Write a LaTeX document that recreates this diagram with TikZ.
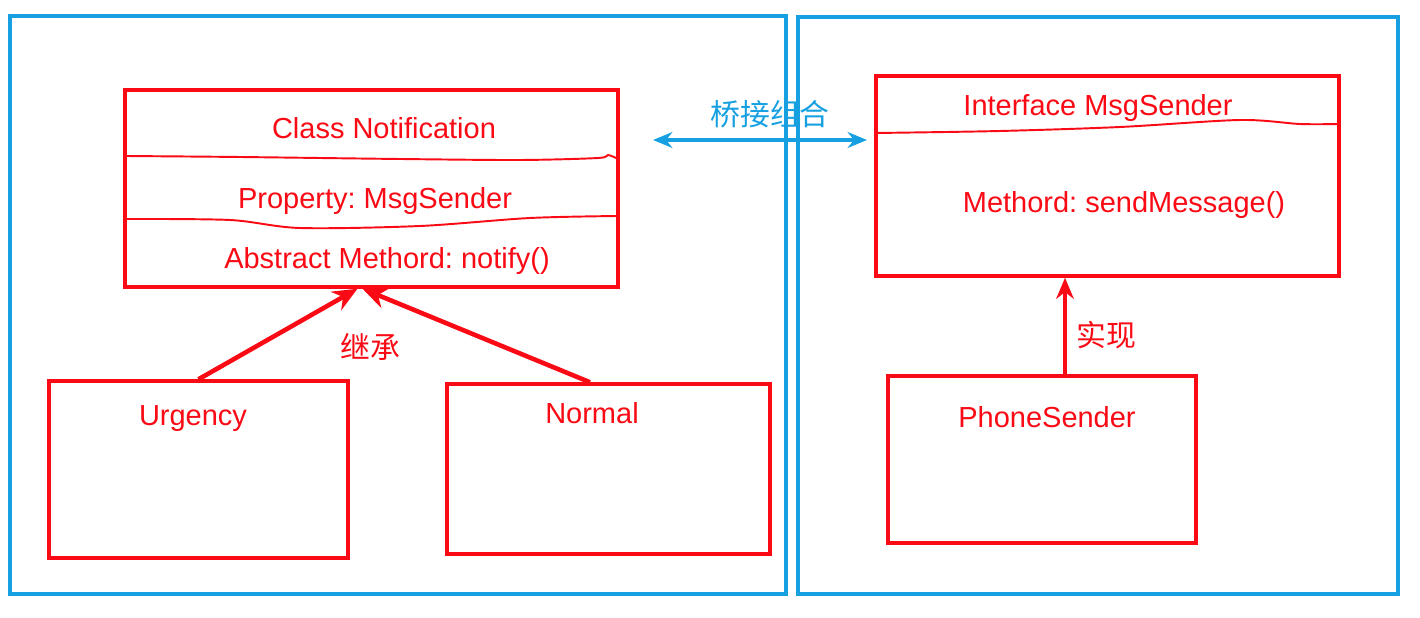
\documentclass[tikz,border=0pt]{standalone}
\usepackage{fontspec}
\setmainfont{Liberation Sans}
\newfontfamily\cjk{Noto Sans CJK SC}
\usetikzlibrary{arrows.meta,positioning}
\definecolor{bridgeblue}{RGB}{22,160,226}
\definecolor{umlred}{RGB}{250,10,20}
\frenchspacing

\begin{document}
\begin{tikzpicture}[
    x=0.02cm, y=-0.02cm,
    frame/.style={rectangle, draw=bridgeblue, line width=1.8pt, inner sep=0pt},
    classbox/.style={rectangle, draw=umlred, line width=2pt, inner sep=0pt, fill=white},
    divider/.style={draw=umlred, line width=1.1pt},
    label/.style={text=umlred, font=\fontsize{16.5}{20}\selectfont, inner sep=1pt},
    cjklabel/.style={font=\cjk\fontsize{17}{20}\selectfont, inner sep=1pt},
    inherit/.style={-{Stealth[length=14pt,width=12pt]}, line width=2.6pt, umlred},
    realize/.style={-{Stealth[length=12pt,width=10pt]}, line width=2.2pt, umlred},
    combine/.style={{Stealth[length=11pt,width=9pt]}-{Stealth[length=11pt,width=9pt]}, line width=2.2pt, bridgeblue}
]
    \useasboundingbox (0,0) rectangle (1420,618);

    % bridge (under the frames)
    \coordinate (bridgeleft) at (653,140);
    \coordinate (bridgeright) at (867,140);
    \draw[combine] (bridgeleft) -- (bridgeright);
    \node[cjklabel, text=bridgeblue] (bridgetext) at (770,114) {桥接组合};

    % the two halves
    \node[frame, minimum width=15.52cm, minimum height=11.56cm] (abstraction) at (398,305) {};
    \node[frame, minimum width=12.00cm, minimum height=11.54cm] (implementor) at (1098,305.5) {};

    % abstraction side
    \node[classbox, minimum width=9.86cm, minimum height=3.94cm] (notification) at (371.5,188.5) {};
    \node[label] (notifname) at (384,128) {Class Notification};
    \node[label] (notifprop) at (375,201) {Property: MsgSender};
    \node[label] (notifmeth) at (387,261) {Abstract Methord: notify()};
    \draw[divider] plot[smooth] coordinates {(125,156) (240,157) (400,159) (520,160) (598,158) (608,155) (618,159)};
    \draw[divider] plot[smooth] coordinates {(125,219) (230,220) (300,228) (420,226) (530,218) (618,216)};

    \node[classbox, minimum width=5.98cm, minimum height=3.54cm] (urgency) at (198.5,469.5) {};
    \node[label] (urgencyname) at (193,419) {Urgency};
    \node[classbox, minimum width=6.46cm, minimum height=3.40cm] (normal) at (608.5,469) {};
    \node[label] (normalname) at (592,413) {Normal};

    \coordinate (inleft) at ([xshift=-0.28cm]notification.south);
    \coordinate (inright) at ([xshift=-0.18cm]notification.south);
    \coordinate (normaltop) at ([xshift=-0.37cm]normal.north);
    \draw[inherit] (urgency.north) -- (inleft);
    \draw[inherit] (normaltop) -- (inright);
    \node[label, cjklabel] (inherittext) at (370,347) {继承};

    % implementor side
    \node[classbox, minimum width=9.26cm, minimum height=4.00cm] (msgsender) at (1107.5,176) {};
    \node[label] (sendername) at (1098,108) {Interface MsgSender};
    \node[label] (sendermeth) at (1124,205) {Methord: sendMessage()};
    \draw[divider] plot[smooth] coordinates {(876,133) (1000,131) (1120,127) (1240,120) (1300,124) (1339,124)};

    \node[classbox, minimum width=6.16cm, minimum height=3.34cm] (phonesender) at (1042,459.5) {};
    \node[label] (phonename) at (1047,417) {PhoneSender};

    \coordinate (phonetop) at ([xshift=0.46cm]phonesender.north);
    \coordinate (senderbottom) at (phonetop |- msgsender.south);
    \draw[realize] (phonetop) -- (senderbottom);
    \node[label, cjklabel] (realizetext) at (1106,335) {实现};
\end{tikzpicture}
\end{document}
